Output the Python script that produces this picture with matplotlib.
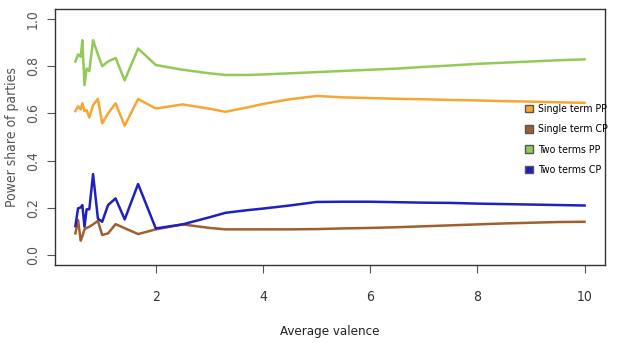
import matplotlib.pyplot as plt
import matplotlib.patches as mpatches

plt.rcParams['font.family'] = ['DejaVu Sans']
plt.rcParams['font.stretch'] = 'condensed'

valence = [0.5, 0.55, 0.6, 0.63, 0.67, 0.71, 0.76, 0.83, 0.92, 1.0, 1.11, 1.25, 1.42, 1.67,
           2.0, 2.5, 3.0, 3.3, 3.7, 4.0, 4.5, 5.0, 5.5, 6.0, 6.5, 7.0, 7.5, 8.0, 8.5, 9.0, 9.5, 10.0]

single_pp = [0.61, 0.63, 0.617, 0.643, 0.61, 0.614, 0.583, 0.635, 0.662, 0.558, 0.60, 0.643, 0.548, 0.661,
             0.621, 0.638, 0.62, 0.607, 0.625, 0.64, 0.66, 0.674, 0.668, 0.665, 0.662, 0.66, 0.657, 0.655,
             0.652, 0.65, 0.647, 0.645]
single_cp = [0.092, 0.148, 0.061, 0.08, 0.109, 0.115, 0.12, 0.13, 0.145, 0.085, 0.092, 0.131, 0.114, 0.089,
             0.109, 0.13, 0.115, 0.109, 0.109, 0.109, 0.109, 0.11, 0.113, 0.115, 0.118, 0.122, 0.126, 0.13,
             0.134, 0.137, 0.14, 0.141]
two_pp = [0.82, 0.85, 0.84, 0.91, 0.72, 0.79, 0.78, 0.91, 0.85, 0.80, 0.82, 0.835, 0.74, 0.875,
          0.805, 0.785, 0.77, 0.763, 0.763, 0.765, 0.77, 0.775, 0.78, 0.785, 0.79, 0.797, 0.803, 0.81,
          0.815, 0.82, 0.825, 0.829]
two_cp = [0.123, 0.198, 0.202, 0.212, 0.12, 0.194, 0.194, 0.343, 0.155, 0.141, 0.212, 0.24, 0.151, 0.301,
          0.113, 0.13, 0.16, 0.179, 0.19, 0.197, 0.21, 0.225, 0.226, 0.226, 0.224, 0.222, 0.221, 0.218,
          0.216, 0.214, 0.212, 0.21]

labels = ["Single term PP", "Single term CP", "Two terms PP", "Two terms CP"]
colors = ["#F5A733", "#A0602E", "#93C957", "#2020C0"]
series = [single_pp, single_cp, two_pp, two_cp]

fig = plt.figure(figsize=(6.23, 3.49), dpi=100)
ax = fig.add_axes([0.0883, 0.2407, 0.8827, 0.7333])

for ys, c in zip(series, colors):
    ax.plot(valence, ys, color=c, lw=1.8)

ax.set_xlim(0.12, 10.38)
ax.set_ylim(-0.042, 1.042)
ax.set_xticks([2, 4, 6, 8, 10])
ax.set_yticks([0.0, 0.2, 0.4, 0.6, 0.8, 1.0])
ax.set_yticklabels(["0.0", "0.2", "0.4", "0.6", "0.8", "1.0"], rotation=90, va="center")
ax.tick_params(axis="x", length=6, pad=12, labelsize=10, color="#555555", labelcolor="#333333")
ax.tick_params(axis="y", length=6, pad=5, labelsize=10, color="#555555", labelcolor="#555555")
for sp in ax.spines.values():
    sp.set_color("#333333")
    sp.set_linewidth(1.0)

ax.set_xlabel("Average valence", fontsize=9.5, color="#222222", labelpad=15)
ax.set_ylabel("Power share of parties", fontsize=10, color="#555555", labelpad=5)

handles = [mpatches.Patch(facecolor=c, edgecolor="#555555", label=l) for c, l in zip(colors, labels)]
ax.legend(handles=handles, loc="upper left", bbox_to_anchor=(0.847, 0.645), frameon=False,
          fontsize=7.6, handlelength=0.75, handleheight=0.75, handletextpad=0.5,
          labelspacing=0.98, borderaxespad=0)

fig.savefig("out.png", dpi=100)
